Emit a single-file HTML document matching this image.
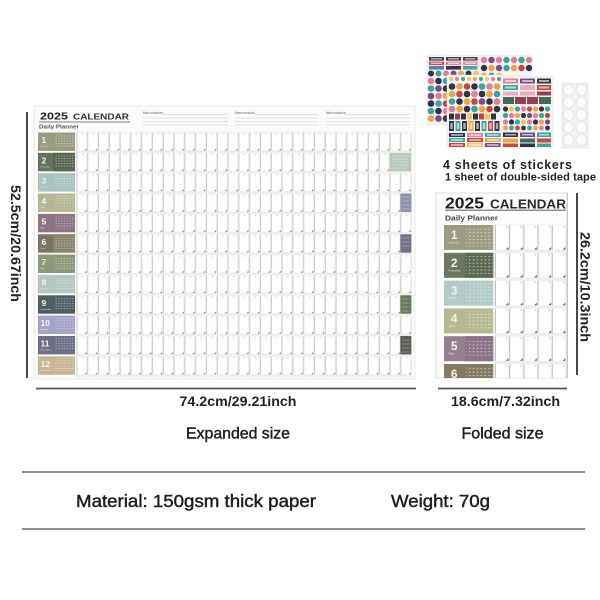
<!DOCTYPE html>
<html>
<head>
<meta charset="utf-8">
<style>
  html,body{margin:0;padding:0;background:#fff;}
  svg{display:block;}
  text{font-family:"Liberation Sans", Arial, sans-serif;}
</style>
</head>
<body>
<svg width="600" height="600" viewBox="0 0 600 600" xmlns="http://www.w3.org/2000/svg">
  <defs>
    <pattern id="cb" patternUnits="userSpaceOnUse" x="76.5" y="132.5" width="10.8" height="20.35">
      <rect x="0.3" y="0" width="9.9" height="18.4" fill="#fff" stroke="#e0e0dc" stroke-width="0.4"/>
      <line x1="0.5" y1="0.3" x2="0.5" y2="18.2" stroke="#b5b5b0" stroke-width="0.6"/>
      <rect x="5.5" y="1" width="1.2" height="1" fill="#c8c8c4"/>
      <path d="M8.3 17.9 L9.9 16.2 L9.9 17.9 Z" fill="#555"/>
    </pattern>
    <pattern id="cf" patternUnits="userSpaceOnUse" x="495" y="225" width="14.2" height="27.8">
      <rect x="0.3" y="0" width="13.4" height="25" fill="#fff" stroke="#e2e2de" stroke-width="0.4"/>
      <line x1="0.6" y1="0.3" x2="0.6" y2="24.8" stroke="#b0b0ab" stroke-width="0.7"/>
      <rect x="11.2" y="1.2" width="1.3" height="1.3" fill="#c0c0bb"/>
      <path d="M11 24.6 L13.4 22 L13.4 24.6 Z" fill="#555"/>
    </pattern>
    <pattern id="db" patternUnits="userSpaceOnUse" width="2.75" height="2.5">
      <rect x="0.5" y="0.6" width="1.3" height="0.8" fill="#fff" fill-opacity="0.55"/>
    </pattern>
    <pattern id="df" patternUnits="userSpaceOnUse" width="3.9" height="3.4">
      <rect x="0.8" y="1" width="1.8" height="1" fill="#fff" fill-opacity="0.55"/>
    </pattern>
    <clipPath id="fclip"><rect x="436" y="193" width="131" height="185"/></clipPath>
  </defs>

  <!-- ================= BIG CALENDAR ================= -->
  <rect x="34" y="106" width="381" height="273" fill="#fbfbf9" stroke="#e6e6e2" stroke-width="0.8"/>
  <text x="40" y="119.5" font-size="10.5" font-weight="bold" fill="#222" textLength="28" lengthAdjust="spacingAndGlyphs">2025</text>
  <text x="73" y="119.5" font-size="8.5" font-weight="bold" fill="#333" textLength="56" lengthAdjust="spacingAndGlyphs">CALENDAR</text>
  <line x1="39" y1="122" x2="130" y2="122" stroke="#555" stroke-width="0.7"/>
  <text x="39" y="128.5" font-size="5.5" font-weight="bold" fill="#555" textLength="40" lengthAdjust="spacingAndGlyphs">Daily Planner</text>

  <!-- memos -->
  <g fill="#666" font-size="3.2">
    <text x="143" y="114">Memorandum</text>
    <text x="235" y="114">Memorandum</text>
    <text x="326" y="114">Memorandum</text>
  </g>
  <g stroke="#c8c8c5" stroke-width="0.5">
    <line x1="162" y1="114.5" x2="228" y2="114.5"/>
    <line x1="143" y1="118" x2="228" y2="118"/>
    <line x1="143" y1="121.5" x2="228" y2="121.5"/>
    <line x1="143" y1="125" x2="228" y2="125"/>
    <line x1="254" y1="114.5" x2="318" y2="114.5"/>
    <line x1="235" y1="118" x2="318" y2="118"/>
    <line x1="235" y1="121.5" x2="318" y2="121.5"/>
    <line x1="235" y1="125" x2="318" y2="125"/>
    <line x1="345" y1="114.5" x2="410" y2="114.5"/>
    <line x1="326" y1="118" x2="410" y2="118"/>
    <line x1="326" y1="121.5" x2="410" y2="121.5"/>
    <line x1="326" y1="125" x2="410" y2="125"/>
  </g>

  <!-- grid -->
  <rect x="76" y="132" width="336" height="245" fill="#efefeb"/>
  <rect x="76.5" y="132.5" width="334.8" height="244.2" fill="url(#cb)"/>

  <!-- special note boxes -->
  <rect x="389.5" y="152.85" width="21.5" height="18.4" fill="#b7c8bc"/>
  <g stroke="#fff" stroke-opacity="0.6" stroke-width="0.5">
    <line x1="392" y1="156" x2="408" y2="156"/><line x1="392" y1="159" x2="408" y2="159"/>
    <line x1="392" y1="162" x2="408" y2="162"/><line x1="392" y1="165" x2="408" y2="165"/>
    <line x1="392" y1="168" x2="406" y2="168"/>
  </g>
  <rect x="400.3" y="193.55" width="11" height="18.4" fill="#8f90ad"/>
  <rect x="400.3" y="234.25" width="11" height="18.4" fill="#72738a"/>
  <rect x="400.3" y="295.3" width="11" height="18.4" fill="#6a7a5d"/>
  <rect x="400.3" y="336" width="11" height="18.4" fill="#5d5e5a"/>
  <g stroke="#fff" stroke-opacity="0.55" stroke-width="0.5">
    <line x1="402" y1="197" x2="409.5" y2="197"/><line x1="402" y1="201" x2="409.5" y2="201"/><line x1="402" y1="205" x2="409.5" y2="205"/><line x1="402" y1="209" x2="409.5" y2="209"/>
    <line x1="402" y1="238" x2="409.5" y2="238"/><line x1="402" y1="242" x2="409.5" y2="242"/><line x1="402" y1="246" x2="409.5" y2="246"/>
    <line x1="402" y1="299" x2="409.5" y2="299"/><line x1="402" y1="303" x2="409.5" y2="303"/><line x1="402" y1="307" x2="409.5" y2="307"/><line x1="402" y1="311" x2="409.5" y2="311"/>
    <line x1="402" y1="340" x2="409.5" y2="340"/><line x1="402" y1="344" x2="409.5" y2="344"/><line x1="402" y1="348" x2="409.5" y2="348"/><line x1="402" y1="352" x2="409.5" y2="352"/>
  </g>

  <!-- month tiles -->
  <g>
    <rect x="38" y="132.5" width="37" height="18.4" fill="#9b9d83"/>
    <rect x="38" y="152.85" width="37" height="18.4" fill="#66725e"/>
    <rect x="53" y="152.85" width="22" height="18.4" fill="#5a6652"/>
    <rect x="38" y="173.2" width="37" height="18.4" fill="#a9c3c1"/>
    <rect x="38" y="193.55" width="37" height="18.4" fill="#b4b695"/>
    <rect x="38" y="213.9" width="37" height="18.4" fill="#8d7384"/>
    <rect x="38" y="234.25" width="37" height="18.4" fill="#7b7663"/>
    <rect x="53" y="234.25" width="22" height="18.4" fill="#8a846f"/>
    <rect x="38" y="254.6" width="37" height="18.4" fill="#8d977b"/>
    <rect x="38" y="274.95" width="37" height="18.4" fill="#b5c5bf"/>
    <rect x="38" y="295.3" width="37" height="18.4" fill="#4e5e63"/>
    <rect x="38" y="315.65" width="37" height="18.4" fill="#a4a3c7"/>
    <rect x="38" y="336" width="37" height="18.4" fill="#6e6e86"/>
    <rect x="38" y="356.35" width="37" height="18.4" fill="#c9b594"/>
  </g>
  <g>
    <rect x="55" y="134.5" width="19" height="12.5" fill="url(#db)"/>
    <rect x="55" y="154.85" width="19" height="12.5" fill="url(#db)"/>
    <rect x="55" y="175.2" width="19" height="12.5" fill="url(#db)"/>
    <rect x="55" y="195.55" width="19" height="12.5" fill="url(#db)"/>
    <rect x="55" y="215.9" width="19" height="12.5" fill="url(#db)"/>
    <rect x="55" y="236.25" width="19" height="12.5" fill="url(#db)"/>
    <rect x="55" y="256.6" width="19" height="12.5" fill="url(#db)"/>
    <rect x="55" y="276.95" width="19" height="12.5" fill="url(#db)"/>
    <rect x="55" y="297.3" width="19" height="12.5" fill="url(#db)"/>
    <rect x="55" y="317.65" width="19" height="12.5" fill="url(#db)"/>
    <rect x="55" y="338" width="19" height="12.5" fill="url(#db)"/>
    <rect x="55" y="358.35" width="19" height="12.5" fill="url(#db)"/>
  </g>
  <g fill="#f4f4ef" font-size="8.5" font-weight="bold">
    <text x="41.5" y="143">1</text>
    <text x="41.5" y="163.35">2</text>
    <text x="41.5" y="183.7">3</text>
    <text x="41.5" y="204.05">4</text>
    <text x="41.5" y="224.4">5</text>
    <text x="41.5" y="244.75">6</text>
    <text x="41.5" y="265.1">7</text>
    <text x="41.5" y="285.45">8</text>
    <text x="41.5" y="305.8">9</text>
    <text x="40.5" y="326.15">10</text>
    <text x="40.5" y="346.5">11</text>
    <text x="40.5" y="366.85">12</text>
  </g>
  <g fill="#f4f4ef" font-size="2.2" fill-opacity="0.85">
    <text x="40.5" y="147">January</text>
    <text x="40.5" y="167.35">February</text>
    <text x="40.5" y="187.7">March</text>
    <text x="40.5" y="208.05">April</text>
    <text x="40.5" y="228.4">May</text>
    <text x="40.5" y="248.75">June</text>
    <text x="40.5" y="269.1">July</text>
    <text x="40.5" y="289.45">August</text>
    <text x="40.5" y="309.8">September</text>
    <text x="40.5" y="330.15">October</text>
    <text x="40.5" y="350.5">November</text>
    <text x="40.5" y="370.85">December</text>
  </g>

  <!-- dimension lines big -->
  <line x1="27" y1="112" x2="27" y2="378" stroke="#333" stroke-width="1.8"/>
  <line x1="36" y1="388.5" x2="416" y2="388.5" stroke="#555" stroke-width="1.8"/>
  <text transform="translate(11,185) rotate(90)" x="0" y="0" font-size="14" font-weight="bold" fill="#222" textLength="117" lengthAdjust="spacingAndGlyphs">52.5cm/20.67inch</text>
  <text x="179.5" y="406" font-size="14" font-weight="bold" fill="#222" textLength="117" lengthAdjust="spacingAndGlyphs">74.2cm/29.21inch</text>
  <text x="186" y="438.5" font-size="16" fill="#222" stroke="#222" stroke-width="0.45" textLength="104" lengthAdjust="spacingAndGlyphs">Expanded size</text>

  <!-- ================= FOLDED CALENDAR ================= -->
  <rect x="436" y="193" width="131" height="185" fill="#fdfdfb" stroke="#d8d8d4" stroke-width="0.8"/>
  <g clip-path="url(#fclip)">
    <text x="445" y="208.5" font-size="16" font-weight="bold" fill="#1e1e1e" textLength="39" lengthAdjust="spacingAndGlyphs">2025</text>
    <text x="490" y="208.5" font-size="12.5" font-weight="bold" fill="#2a2a2a" textLength="76" lengthAdjust="spacingAndGlyphs">CALENDAR</text>
    <line x1="445" y1="210.2" x2="566" y2="210.2" stroke="#444" stroke-width="0.9"/>
    <text x="445" y="220.5" font-size="7" font-weight="bold" fill="#444" textLength="53" lengthAdjust="spacingAndGlyphs">Daily Planner</text>

    <rect x="494" y="224.5" width="72.5" height="154" fill="#efefeb"/>
    <rect x="495" y="225" width="71" height="153" fill="url(#cf)"/>

    <rect x="444" y="225" width="49.3" height="25" fill="#9c9d82"/>
    <rect x="444" y="252.8" width="49.3" height="25" fill="#6c7662"/>
    <rect x="465" y="252.8" width="28.3" height="25" fill="#5e6a55"/>
    <rect x="444" y="280.6" width="49.3" height="25" fill="#b2cbc8"/>
    <rect x="444" y="308.4" width="49.3" height="25" fill="#b6b894"/>
    <rect x="444" y="336.2" width="49.3" height="25" fill="#94808f"/>
    <rect x="465" y="336.2" width="28.3" height="25" fill="#8a7485"/>
    <rect x="444" y="364" width="49.3" height="25" fill="#857b64"/>

    <rect x="466" y="227.5" width="27" height="19" fill="url(#df)"/>
    <rect x="466" y="255.3" width="27" height="19" fill="url(#df)"/>
    <rect x="466" y="283.1" width="27" height="19" fill="url(#df)"/>
    <rect x="466" y="310.9" width="27" height="19" fill="url(#df)"/>
    <rect x="466" y="338.7" width="27" height="19" fill="url(#df)"/>
    <rect x="466" y="366.5" width="27" height="19" fill="url(#df)"/>

    <g fill="#f4f4ef" font-size="11.5" font-weight="bold">
      <text x="451" y="239">1</text>
      <text x="451" y="266.8">2</text>
      <text x="451" y="294.6">3</text>
      <text x="451" y="322.4">4</text>
      <text x="451" y="350.2">5</text>
      <text x="451" y="378">6</text>
    </g>
    <g fill="#f4f4ef" font-size="3" fill-opacity="0.85">
      <text x="448.5" y="243.5">January</text>
      <text x="448.5" y="271.3">February</text>
      <text x="448.5" y="299.1">March</text>
      <text x="448.5" y="326.9">April</text>
      <text x="448.5" y="354.7">May</text>
    </g>
  </g>
  <line x1="567.3" y1="193" x2="567.3" y2="378" stroke="#b8b8b4" stroke-width="1"/>

  <!-- dimension lines folded -->
  <line x1="577" y1="193" x2="577" y2="375" stroke="#333" stroke-width="1.8"/>
  <line x1="438" y1="388.5" x2="567" y2="388.5" stroke="#555" stroke-width="1.8"/>
  <text transform="translate(580.5,232) rotate(90)" x="0" y="0" font-size="14" font-weight="bold" fill="#222" textLength="110" lengthAdjust="spacingAndGlyphs">26.2cm/10.3inch</text>
  <text x="451" y="406" font-size="14" font-weight="bold" fill="#222" textLength="109" lengthAdjust="spacingAndGlyphs">18.6cm/7.32inch</text>
  <text x="461.5" y="438.5" font-size="16" fill="#222" stroke="#222" stroke-width="0.45" textLength="82" lengthAdjust="spacingAndGlyphs">Folded size</text>

  <!-- ================= STICKERS ================= -->
  <g opacity="0.92">
  <!-- sheet A -->
  <rect x="427" y="55" width="52" height="70" fill="#f6f4f1" stroke="#e4e2df" stroke-width="0.4"/>
  <g>
    <rect x="429" y="57" width="15" height="3.6" fill="#2a2d45"/><rect x="446" y="57" width="15" height="3.6" fill="#2a2d45"/><rect x="463" y="57" width="14.5" height="3.6" fill="#2a2d45"/>
    <rect x="429" y="61.5" width="15" height="3.6" fill="#c73e4f"/><rect x="446" y="61.5" width="15" height="3.6" fill="#e07c8f"/><rect x="463" y="61.5" width="14.5" height="3.6" fill="#e07c8f"/>
    <rect x="429" y="66" width="15" height="3.6" fill="#3f78b5"/><rect x="446" y="66" width="15" height="3.6" fill="#23263a"/><rect x="463" y="66" width="14.5" height="3.6" fill="#34a0a4"/>
  </g>
  <g fill="#fff" fill-opacity="0.6">
    <rect x="431" y="58" width="11" height="1.5"/><rect x="448" y="58" width="11" height="1.5"/><rect x="465" y="58" width="10.5" height="1.5"/>
    <rect x="431" y="62.5" width="11" height="1.5"/><rect x="448" y="62.5" width="11" height="1.5"/><rect x="465" y="62.5" width="10.5" height="1.5"/>
  </g>
  <g>
    <circle cx="431" cy="73.5" r="3" fill="#1f2235"/><circle cx="438.5" cy="73.5" r="3" fill="#2a9d9a"/><circle cx="446" cy="73.5" r="3" fill="#e2738f"/><circle cx="453.5" cy="73.5" r="3" fill="#6a3d7c"/><circle cx="461" cy="73.5" r="3" fill="#ee9b3b"/><circle cx="468.5" cy="73.5" r="3" fill="#1f2235"/><circle cx="476" cy="73.5" r="3" fill="#f2c14e"/>
    <circle cx="431" cy="81" r="3.3" fill="#e2738f"/><circle cx="438.5" cy="81" r="3.3" fill="#1f2235"/><circle cx="446" cy="81" r="3.3" fill="#2a9d9a"/>
    <circle cx="431" cy="88.5" r="3.3" fill="#2a9d9a"/><circle cx="438.5" cy="88.5" r="3.3" fill="#6a3d7c"/><circle cx="446" cy="88.5" r="3.3" fill="#1f2235"/>
    <circle cx="431" cy="96" r="3.3" fill="#6a3d7c"/><circle cx="438.5" cy="96" r="3.3" fill="#e2738f"/><circle cx="446" cy="96" r="3.3" fill="#ee9b3b"/>
    <circle cx="431" cy="103.5" r="3.3" fill="#1f2235"/><circle cx="438.5" cy="103.5" r="3.3" fill="#2a9d9a"/><circle cx="446" cy="103.5" r="3.3" fill="#c0392b"/>
    <circle cx="431" cy="111" r="3.3" fill="#2a9d9a"/><circle cx="438.5" cy="111" r="3.3" fill="#1f2235"/><circle cx="446" cy="111" r="3.3" fill="#e2738f"/>
    <circle cx="431" cy="118.5" r="3.3" fill="#ee9b3b"/><circle cx="438.5" cy="118.5" r="3.3" fill="#6a3d7c"/><circle cx="446" cy="118.5" r="3.3" fill="#1f2235"/>
  </g>
  <!-- sheet B -->
  <rect x="479" y="55" width="53" height="22" fill="#f6f4f1" stroke="#e4e2df" stroke-width="0.4"/>
  <g>
    <circle cx="484" cy="60" r="3.2" fill="#e2738f"/><circle cx="491.5" cy="60" r="3.2" fill="#6a3d7c"/><circle cx="499" cy="60" r="3.2" fill="#e2738f"/><circle cx="506.5" cy="60" r="3.2" fill="#2a9d9a"/><circle cx="514" cy="60" r="3.2" fill="#e2738f"/><circle cx="521.5" cy="60" r="3.2" fill="#2a9d9a"/><circle cx="529" cy="60" r="3.2" fill="#e2738f"/>
    <circle cx="484" cy="68" r="3.2" fill="#1f2235"/><circle cx="491.5" cy="68" r="3.2" fill="#ee9b3b"/><circle cx="499" cy="68" r="3.2" fill="#6a3d7c"/><circle cx="506.5" cy="68" r="3.2" fill="#2a9d9a"/><circle cx="514" cy="68" r="3.2" fill="#ee9b3b"/><circle cx="521.5" cy="68" r="3.2" fill="#c0392b"/><circle cx="529" cy="68" r="3.2" fill="#1f2235"/>
    <circle cx="484" cy="75.5" r="3" fill="#ee9b3b"/><circle cx="491.5" cy="75.5" r="3" fill="#2a9d9a"/><circle cx="499" cy="75.5" r="3" fill="#f2c14e"/>
  </g>
  <!-- sheet C -->
  <rect x="447" y="75" width="55" height="73" fill="#f6f4f1" stroke="#e4e2df" stroke-width="0.4"/>
  <g>
    <circle cx="451" cy="79" r="2" fill="#f2c14e"/><circle cx="457" cy="79" r="2" fill="#e2738f"/><circle cx="463" cy="79" r="2" fill="#2a9d9a"/><circle cx="469" cy="79" r="2" fill="#f2c14e"/><circle cx="475" cy="79" r="2" fill="#ee9b3b"/><circle cx="481" cy="79" r="2" fill="#2a9d9a"/><circle cx="487" cy="79" r="2" fill="#f2c14e"/><circle cx="493" cy="79" r="2" fill="#e2738f"/><circle cx="499" cy="79" r="2" fill="#2a9d9a"/>
    <circle cx="452" cy="86.5" r="3.3" fill="#1f2235"/><circle cx="459.5" cy="86.5" r="3.3" fill="#ee9b3b"/><circle cx="467" cy="86.5" r="3.3" fill="#c0392b"/><circle cx="474.5" cy="86.5" r="3.3" fill="#1f2235"/><circle cx="482" cy="86.5" r="3.3" fill="#2a9d9a"/><circle cx="489.5" cy="86.5" r="3.3" fill="#e2738f"/><circle cx="497" cy="86.5" r="3.3" fill="#ee9b3b"/>
    <circle cx="452" cy="94" r="3.3" fill="#ee9b3b"/><circle cx="459.5" cy="94" r="3.3" fill="#c0392b"/><circle cx="467" cy="94" r="3.3" fill="#1f2235"/><circle cx="474.5" cy="94" r="3.3" fill="#e2738f"/><circle cx="482" cy="94" r="3.3" fill="#1f2235"/><circle cx="489.5" cy="94" r="3.3" fill="#ee9b3b"/><circle cx="497" cy="94" r="3.3" fill="#2a9d9a"/>
    <circle cx="452" cy="101.5" r="3.3" fill="#2a9d9a"/><circle cx="459.5" cy="101.5" r="3.3" fill="#1f2235"/><circle cx="467" cy="101.5" r="3.3" fill="#ee9b3b"/><circle cx="474.5" cy="101.5" r="3.3" fill="#c0392b"/><circle cx="482" cy="101.5" r="3.3" fill="#6a3d7c"/><circle cx="489.5" cy="101.5" r="3.3" fill="#1f2235"/><circle cx="497" cy="101.5" r="3.3" fill="#e2738f"/>
    <circle cx="452" cy="109" r="3.3" fill="#e2738f"/><circle cx="459.5" cy="109" r="3.3" fill="#ee9b3b"/><circle cx="467" cy="109" r="3.3" fill="#1f2235"/><circle cx="474.5" cy="109" r="3.3" fill="#2a9d9a"/><circle cx="482" cy="109" r="3.3" fill="#ee9b3b"/><circle cx="489.5" cy="109" r="3.3" fill="#c0392b"/><circle cx="497" cy="109" r="3.3" fill="#1f2235"/>
  </g>
  <g>
    <rect x="449" y="113.5" width="5" height="6" fill="#2b1f2a"/><rect x="455" y="113.5" width="5" height="6" fill="#8e2c48"/><rect x="461" y="113.5" width="5" height="6" fill="#2b1f2a"/><rect x="467" y="113.5" width="5" height="6" fill="#f2c14e"/><rect x="473" y="113.5" width="5" height="6" fill="#2b1f2a"/><rect x="479" y="113.5" width="5" height="6" fill="#c0392b"/><rect x="485" y="113.5" width="5" height="6" fill="#f2c14e"/><rect x="491" y="113.5" width="5" height="6" fill="#1f2235"/>
    <rect x="449" y="121" width="5" height="10" fill="#1f2235"/><rect x="455.5" y="121" width="5" height="10" fill="#2a9d9a"/><rect x="462" y="121" width="5" height="10" fill="#1f2235"/><rect x="468.5" y="121" width="5" height="10" fill="#ee9b3b"/><rect x="475" y="121" width="5" height="10" fill="#1f2235"/><rect x="481.5" y="121" width="5" height="10" fill="#2a9d9a"/><rect x="488" y="121" width="5" height="10" fill="#c0392b"/><rect x="494.5" y="121" width="5" height="10" fill="#1f2235"/>
  </g>
  <g fill="#fff" fill-opacity="0.6">
    <rect x="450.3" y="123" width="2.4" height="6"/><rect x="456.8" y="123" width="2.4" height="6"/><rect x="463.3" y="123" width="2.4" height="6"/><rect x="469.8" y="123" width="2.4" height="6"/><rect x="476.3" y="123" width="2.4" height="6"/><rect x="482.8" y="123" width="2.4" height="6"/><rect x="489.3" y="123" width="2.4" height="6"/><rect x="495.8" y="123" width="2.4" height="6"/>
  </g>
  <g>
    <rect x="449" y="133" width="16" height="4" fill="#1f2235"/><rect x="467" y="133" width="16" height="4" fill="#e2738f"/><rect x="485" y="133" width="15.5" height="4" fill="#2a9d9a"/>
    <rect x="449" y="138" width="16" height="4" fill="#2a9d9a"/><rect x="467" y="138" width="16" height="4" fill="#c0392b"/><rect x="485" y="138" width="15.5" height="4" fill="#ee9b3b"/>
    <rect x="449" y="143" width="16" height="4" fill="#c0392b"/><rect x="467" y="143" width="16" height="4" fill="#f2c14e"/><rect x="485" y="143" width="15.5" height="4" fill="#6a3d7c"/>
  </g>
  <g fill="#fff" fill-opacity="0.65">
    <rect x="451" y="134.2" width="12" height="1.6"/><rect x="469" y="134.2" width="12" height="1.6"/><rect x="487" y="134.2" width="11.5" height="1.6"/>
    <rect x="451" y="139.2" width="12" height="1.6"/><rect x="469" y="139.2" width="12" height="1.6"/><rect x="487" y="139.2" width="11.5" height="1.6"/>
    <rect x="451" y="144.2" width="12" height="1.6"/><rect x="469" y="144.2" width="12" height="1.6"/><rect x="487" y="144.2" width="11.5" height="1.6"/>
  </g>
  <!-- sheet D -->
  <rect x="501" y="76" width="52" height="72" fill="#f6f4f1" stroke="#e4e2df" stroke-width="0.4"/>
  <g>
    <rect x="503" y="78.5" width="15" height="5" fill="#e2738f"/><rect x="520" y="78.5" width="15" height="5" fill="#6a3d7c"/><rect x="537" y="78.5" width="14" height="5" fill="#1f2235"/>
    <rect x="503" y="85" width="15" height="5" fill="#2a9d9a"/><rect x="520" y="85" width="15" height="5" fill="#e9a6b5"/><rect x="537" y="85" width="14" height="5" fill="#c0392b"/>
    <rect x="503" y="91.5" width="15" height="4" fill="#e9a6b5"/><rect x="520" y="91.5" width="15" height="4" fill="#e9a6b5"/><rect x="537" y="91.5" width="14" height="4" fill="#8e2c48"/>
    <rect x="503" y="97" width="11" height="7" fill="#2f5d4a"/><rect x="515" y="97" width="11" height="7" fill="#8e2c48"/><rect x="527" y="97" width="11" height="7" fill="#8e2c48"/><rect x="539" y="97" width="12" height="7" fill="#2f5d4a"/>
  </g>
  <g fill="#fff" fill-opacity="0.6">
    <rect x="505" y="80" width="11" height="2"/><rect x="522" y="80" width="11" height="2"/><rect x="539" y="80" width="10" height="2"/>
    <rect x="505" y="86.5" width="11" height="2"/><rect x="539" y="86.5" width="10" height="2"/>
  </g>
  <g>
    <circle cx="505.5" cy="109" r="2.6" fill="#1f2235"/><circle cx="511.5" cy="109" r="2.6" fill="#f2c14e"/><circle cx="517.5" cy="109" r="2.6" fill="#2a9d9a"/><circle cx="523.5" cy="109" r="2.6" fill="#e2738f"/><circle cx="529.5" cy="109" r="2.6" fill="#c0392b"/><circle cx="535.5" cy="109" r="2.6" fill="#ee9b3b"/><circle cx="541.5" cy="109" r="2.6" fill="#1f2235"/><circle cx="547.5" cy="109" r="2.6" fill="#2a9d9a"/>
    <circle cx="505.5" cy="115.5" r="2.6" fill="#2a9d9a"/><circle cx="511.5" cy="115.5" r="2.6" fill="#e2738f"/><circle cx="517.5" cy="115.5" r="2.6" fill="#ee9b3b"/><circle cx="523.5" cy="115.5" r="2.6" fill="#1f2235"/><circle cx="529.5" cy="115.5" r="2.6" fill="#6a3d7c"/><circle cx="535.5" cy="115.5" r="2.6" fill="#e2738f"/><circle cx="541.5" cy="115.5" r="2.6" fill="#2a9d9a"/><circle cx="547.5" cy="115.5" r="2.6" fill="#c0392b"/>
    <circle cx="505.5" cy="122" r="2.6" fill="#e2738f"/><circle cx="511.5" cy="122" r="2.6" fill="#1f2235"/><circle cx="517.5" cy="122" r="2.6" fill="#2a9d9a"/><circle cx="523.5" cy="122" r="2.6" fill="#f2c14e"/><circle cx="529.5" cy="122" r="2.6" fill="#e2738f"/><circle cx="535.5" cy="122" r="2.6" fill="#1f2235"/><circle cx="541.5" cy="122" r="2.6" fill="#ee9b3b"/><circle cx="547.5" cy="122" r="2.6" fill="#6a3d7c"/>
    <circle cx="505.5" cy="128" r="2.4" fill="#ee9b3b"/><circle cx="511.5" cy="128" r="2.4" fill="#2a9d9a"/><circle cx="517.5" cy="128" r="2.4" fill="#c0392b"/><circle cx="523.5" cy="128" r="2.4" fill="#1f2235"/><circle cx="529.5" cy="128" r="2.4" fill="#2a9d9a"/><circle cx="535.5" cy="128" r="2.4" fill="#ee9b3b"/><circle cx="541.5" cy="128" r="2.4" fill="#e2738f"/><circle cx="547.5" cy="128" r="2.4" fill="#1f2235"/>
  </g>
  <g>
    <rect x="503" y="132.5" width="15" height="4.5" fill="#1f2235"/><rect x="520" y="132.5" width="15" height="4.5" fill="#6a3d7c"/><rect x="537" y="132.5" width="14" height="4.5" fill="#2a9d9a"/>
    <rect x="503" y="138.5" width="15" height="4" fill="#ee9b3b"/><rect x="520" y="138.5" width="15" height="4" fill="#2f5d4a"/><rect x="537" y="138.5" width="14" height="4" fill="#c0392b"/>
    <rect x="503" y="143.5" width="15" height="3.5" fill="#c0392b"/><rect x="520" y="143.5" width="15" height="3.5" fill="#1f2235"/><rect x="537" y="143.5" width="14" height="3.5" fill="#2a9d9a"/>
  </g>
  <g fill="#fff" fill-opacity="0.6">
    <rect x="505" y="134" width="11" height="1.5"/><rect x="522" y="134" width="11" height="1.5"/><rect x="539" y="134" width="10" height="1.5"/>
  </g>
  </g>
  <!-- tape sheet -->
  <rect x="562" y="83" width="26" height="65" fill="#f2f2f2" stroke="#dedede" stroke-width="0.6"/>
  <g fill="#fafafa" stroke="#d9d9d9" stroke-width="0.6">
    <circle cx="568.5" cy="90" r="5.5"/><circle cx="581.5" cy="90" r="5.5"/>
    <circle cx="568.5" cy="102.5" r="5.5"/><circle cx="581.5" cy="102.5" r="5.5"/>
    <circle cx="568.5" cy="115" r="5.5"/><circle cx="581.5" cy="115" r="5.5"/>
    <circle cx="568.5" cy="127.5" r="5.5"/><circle cx="581.5" cy="127.5" r="5.5"/>
    <circle cx="568.5" cy="140" r="5.5"/><circle cx="581.5" cy="140" r="5.5"/>
  </g>

  <text x="443" y="169" font-size="12.5" font-weight="bold" fill="#222" textLength="129" lengthAdjust="spacing">4 sheets of stickers</text>
  <text x="445" y="180.5" font-size="11" font-weight="bold" fill="#222" textLength="151" lengthAdjust="spacing">1 sheet of double-sided tape</text>

  <!-- ================= BOTTOM INFO ================= -->
  <line x1="22" y1="472" x2="585" y2="472" stroke="#8f8f8f" stroke-width="2"/>
  <text x="76" y="507" font-size="17.5" fill="#1e1e1e" stroke="#1e1e1e" stroke-width="0.45" textLength="240" lengthAdjust="spacingAndGlyphs">Material: 150gsm thick paper</text>
  <text x="391" y="507" font-size="17.5" fill="#1e1e1e" stroke="#1e1e1e" stroke-width="0.45" textLength="99" lengthAdjust="spacingAndGlyphs">Weight: 70g</text>
  <line x1="22" y1="529" x2="585" y2="529" stroke="#8f8f8f" stroke-width="2"/>
</svg>
</body>
</html>
